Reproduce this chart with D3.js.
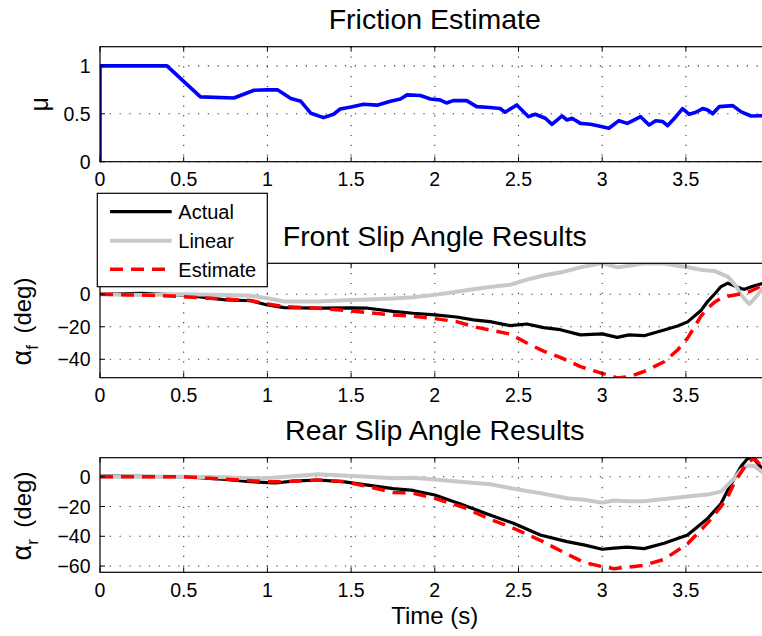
<!DOCTYPE html>
<html>
<head>
<meta charset="utf-8">
<script src="https://cdn.jsdelivr.net/npm/d3@7"></script>
<style>
  html, body { margin: 0; padding: 0; background: #fff; overflow: hidden; }
  svg { display: block; font-family: "Liberation Sans", Arial, Helvetica, sans-serif; }
</style>
</head>
<body>
<svg id="chart" width="762" height="636"></svg>
<script>
// ---- Friction estimate ----
const muTime = [0, 0, 0.4, 0.6, 0.8, 0.92, 1.0, 1.06, 1.14, 1.2, 1.26, 1.335, 1.395, 1.435, 1.5, 1.575, 1.655, 1.735, 1.795, 1.834, 1.914, 1.974, 2.03, 2.07, 2.11, 2.19, 2.25, 2.33, 2.39, 2.42, 2.49, 2.56, 2.60, 2.66, 2.70, 2.76, 2.79, 2.82, 2.87, 2.93, 2.98, 3.04, 3.10, 3.15, 3.23, 3.28, 3.32, 3.36, 3.39, 3.44, 3.48, 3.52, 3.56, 3.60, 3.63, 3.66, 3.70, 3.78, 3.83, 3.89, 3.97];
const muValue = [0, 1, 1, 0.676, 0.665, 0.745, 0.75, 0.75, 0.66, 0.63, 0.505, 0.46, 0.495, 0.55, 0.57, 0.60, 0.59, 0.63, 0.655, 0.697, 0.69, 0.655, 0.645, 0.613, 0.637, 0.637, 0.575, 0.565, 0.555, 0.516, 0.592, 0.47, 0.495, 0.453, 0.39, 0.477, 0.435, 0.453, 0.40, 0.39, 0.373, 0.349, 0.428, 0.40, 0.47, 0.383, 0.428, 0.42, 0.376, 0.47, 0.554, 0.495, 0.516, 0.554, 0.54, 0.50, 0.575, 0.585, 0.52, 0.477, 0.48];

// ---- Front slip angle (deg) ----
const frontTime     = [0, 0.25, 0.5, 0.75, 0.9, 1.0, 1.1, 1.3, 1.5, 1.6, 1.75, 1.87, 2.0, 2.13, 2.23, 2.33, 2.45, 2.55, 2.65, 2.75, 2.87, 3.0, 3.09, 3.16, 3.25, 3.37, 3.45, 3.51, 3.59, 3.63, 3.67, 3.71, 3.75, 3.8, 3.83, 3.85, 3.88, 3.92, 3.97];
const frontActual   = [0, 0.5, -0.5, -3.5, -4, -6.6, -8.2, -8.6, -8.4, -8.6, -10.5, -11.7, -12.7, -14, -15.8, -16.8, -19.3, -18.3, -20.5, -21.8, -25, -24.4, -26.5, -25, -25.5, -22, -19.5, -17, -10, -4.5, 0, 4.7, 6.8, 4.7, 3.5, 3, 4.2, 5.5, 7];
const frontLinear   = [0, -0.5, 0, -0.5, -1, -2.5, -4.5, -4.5, -3.5, -3.2, -2.7, -1.8, -0.4, 1.5, 3, 4.5, 5.8, 9, 11.5, 13.3, 16.5, 19.2, 16.5, 17.5, 19, 18.8, 17.5, 16.6, 15, 14.6, 14.3, 12.5, 10.8, 5, -0.4, -3, -6, -1.5, 5];
const frontEstimate = [0, -0.5, -1.5, -3, -3.9, -6, -7.6, -8.6, -10.3, -11.3, -12.8, -13.5, -15, -16.8, -19.9, -22, -24.5, -30, -35, -38.8, -44.5, -48.6, -51.5, -50.7, -47.5, -41.5, -34.3, -27, -13.5, -8.6, -5, -2.5, -1.2, -0.3, 0.3, 0.8, 1.5, 3.5, 6.5];

// ---- Rear slip angle (deg) ----
const rearTime     = [0, 0.25, 0.5, 0.75, 0.9, 1.0, 1.05, 1.15, 1.3, 1.45, 1.6, 1.75, 1.87, 2.0, 2.17, 2.33, 2.47, 2.63, 2.79, 2.89, 3.0, 3.07, 3.15, 3.25, 3.37, 3.51, 3.63, 3.71, 3.75, 3.79, 3.83, 3.87, 3.91, 3.97];
const rearActual   = [0.5, 0.3, 0, -1.8, -3.3, -4, -4.2, -2.9, -2.2, -3.3, -5.6, -8, -9.2, -12.3, -19, -25.7, -31.3, -39.1, -43.6, -45.8, -48.7, -48, -47.3, -48.3, -44.7, -39.1, -28, -18, -9, -1, 7, 12.5, 11.5, 3.5];
const rearLinear   = [0, 0, 0, -0.3, -1, -1, -0.5, 0.3, 1.6, 0.8, 0, -1, -0.7, -1.8, -3.5, -5, -8, -11, -14.5, -15.5, -17.4, -16, -16.5, -16.5, -15, -13.3, -12, -10, -5.5, -1, 4.5, 7.5, 7, 2];
const rearEstimate = [0, 0, 0, -1.6, -2.7, -3.3, -3.4, -3.1, -2.2, -3.2, -6.5, -10.5, -11, -14.5, -20.5, -28.5, -34.6, -42.7, -52, -57.5, -60.4, -61.8, -60.8, -59.5, -55.5, -45, -31, -20, -13.4, -4, 3, 10, 12.3, 5];

const timeTicks = [0, 0.5, 1, 1.5, 2, 2.5, 3, 3.5];
const muTicks = [0, 0.5, 1];
const frontTicks = [-40, -20, 0];
const rearTicks = [-60, -40, -20, 0];
const legendLabels = ["Actual", "Linear", "Estimate"];

const svg = d3.select("#chart");
const FONT = '"Liberation Sans", Arial, Helvetica, sans-serif';
// the axes run from 0 to 4 s; the page is narrower than the right edge of the axes
const left = 100, right = 769.6;
const x = d3.scaleLinear().domain([0, 4]).range([left, right]);

const seriesStyle = {
  mu:       { stroke: "#0000ff", width: 3.6, dash: null },
  Actual:   { stroke: "#000000", width: 3.2, dash: null },
  Linear:   { stroke: "#c8c8c8", width: 4,   dash: null },
  Estimate: { stroke: "#ff0000", width: 3.5, dash: "13,8" }
};

const fmt = v => (v < 0 ? "\u2212" + Math.abs(v) : String(v));

function panel(id, top, bottom, yDomain, yTicks, title, series) {
  const y = d3.scaleLinear().domain(yDomain).range([bottom, top]);
  const g = svg.append("g");

  // dotted grid
  const grid = g.append("g").attr("stroke", "#333").attr("stroke-width", 1.1)
    .attr("stroke-dasharray", "1.2,8.6");
  grid.selectAll("line.gx").data(timeTicks.filter(t => t > 0)).join("line")
    .attr("x1", d => x(d)).attr("x2", d => x(d))
    .attr("y1", top).attr("y2", bottom);
  grid.selectAll("line.gy").data(yTicks).join("line")
    .attr("x1", left).attr("x2", right)
    .attr("y1", d => y(d)).attr("y2", d => y(d));

  // data lines, clipped to the axes
  g.append("clipPath").attr("id", "clip-" + id)
    .append("rect").attr("x", left).attr("y", top)
    .attr("width", right - left).attr("height", bottom - top);
  const line = d3.line().x(d => x(d[0])).y(d => y(d[1]));
  const lines = g.append("g").attr("clip-path", `url(#clip-${id})`);
  series.forEach(s => {
    const st = seriesStyle[s.name];
    lines.append("path")
      .attr("d", line(d3.zip(s.t, s.v)))
      .attr("fill", "none")
      .attr("stroke", st.stroke)
      .attr("stroke-width", st.width)
      .attr("stroke-linejoin", "round")
      .attr("stroke-dasharray", st.dash);
  });

  // box and inward ticks
  g.append("rect").attr("x", left).attr("y", top)
    .attr("width", right - left).attr("height", bottom - top)
    .attr("fill", "none").attr("stroke", "#000").attr("stroke-width", 1.2);
  const tk = g.append("g").attr("stroke", "#000").attr("stroke-width", 1);
  timeTicks.forEach(t => {
    tk.append("line").attr("x1", x(t)).attr("x2", x(t)).attr("y1", bottom).attr("y2", bottom - 5);
    tk.append("line").attr("x1", x(t)).attr("x2", x(t)).attr("y1", top).attr("y2", top + 5);
  });
  yTicks.forEach(v => {
    tk.append("line").attr("x1", left).attr("x2", left + 5).attr("y1", y(v)).attr("y2", y(v));
    tk.append("line").attr("x1", right).attr("x2", right - 5).attr("y1", y(v)).attr("y2", y(v));
  });

  // tick labels
  g.selectAll("text.xt").data(timeTicks).join("text")
    .attr("x", d => x(d)).attr("y", bottom + 24.5)
    .attr("text-anchor", "middle").attr("font-size", 19.5).attr("fill", "#000")
    .text(d => d);
  g.selectAll("text.yt").data(yTicks).join("text")
    .attr("x", left - 9.5).attr("y", d => y(d)).attr("dy", "0.36em")
    .attr("text-anchor", "end").attr("font-size", 19.5).attr("fill", "#000")
    .text(d => fmt(d));

  // title
  g.append("text").attr("x", (left + right) / 2).attr("y", top - 17.6)
    .attr("text-anchor", "middle").attr("font-size", 28.5).attr("fill", "#000")
    .text(title);

  return { g, y, top, bottom };
}

// Friction panel
const p1 = panel("mu", 46.7, 161.7, [0, 1.2], muTicks, "Friction Estimate",
  [{ name: "mu", t: muTime, v: muValue }]);
p1.g.append("text")
  .attr("transform", `translate(48,${(p1.top + p1.bottom) / 2}) rotate(-90)`)
  .attr("text-anchor", "middle").attr("font-size", 25).attr("fill", "#000")
  .text("\u03bc");

// Front slip panel
const p2 = panel("front", 263.3, 377.7, [-51.3, 19], frontTicks, "Front Slip Angle Results", [
  { name: "Actual", t: frontTime, v: frontActual },
  { name: "Linear", t: frontTime, v: frontLinear },
  { name: "Estimate", t: frontTime, v: frontEstimate }
]);

// Rear slip panel
const p3 = panel("rear", 457.7, 572.3, [-64.2, 12.8], rearTicks, "Rear Slip Angle Results", [
  { name: "Actual", t: rearTime, v: rearActual },
  { name: "Linear", t: rearTime, v: rearLinear },
  { name: "Estimate", t: rearTime, v: rearEstimate }
]);

function alphaLabel(p, sub) {
  const t = p.g.append("text")
    .attr("transform", `translate(31,${(p.top + p.bottom) / 2 + 1}) rotate(-90)`)
    .attr("text-anchor", "middle").attr("font-size", 24).attr("fill", "#000");
  t.append("tspan").attr("font-size", 27).text("\u03b1");
  t.append("tspan").attr("font-size", 17).attr("dy", 7).text(sub);
  t.append("tspan").attr("dy", -7).text("\u2009 (deg)");
}
alphaLabel(p2, "f");
alphaLabel(p3, "r");

// x-axis label
svg.append("text").attr("x", (left + right) / 2).attr("y", 624)
  .attr("text-anchor", "middle").attr("font-size", 24).attr("font-family", FONT)
  .text("Time (s)");

// legend
const lg = svg.append("g");
lg.append("rect").attr("x", 97.3).attr("y", 193.3).attr("width", 170).attr("height", 93.4)
  .attr("fill", "#fff").attr("stroke", "#000").attr("stroke-width", 1.2);
const legendY = [211.7, 240.7, 269.3];
legendLabels.forEach((name, i) => {
  const st = seriesStyle[name];
  lg.append("line").attr("x1", 110).attr("x2", 171.7)
    .attr("y1", legendY[i]).attr("y2", legendY[i])
    .attr("stroke", st.stroke).attr("stroke-width", st.width)
    .attr("stroke-dasharray", st.dash);
  lg.append("text").attr("x", 178.3).attr("y", legendY[i]).attr("dy", "0.36em")
    .attr("font-size", 20).attr("fill", "#000").text(name);
});
</script>
</body>
</html>
